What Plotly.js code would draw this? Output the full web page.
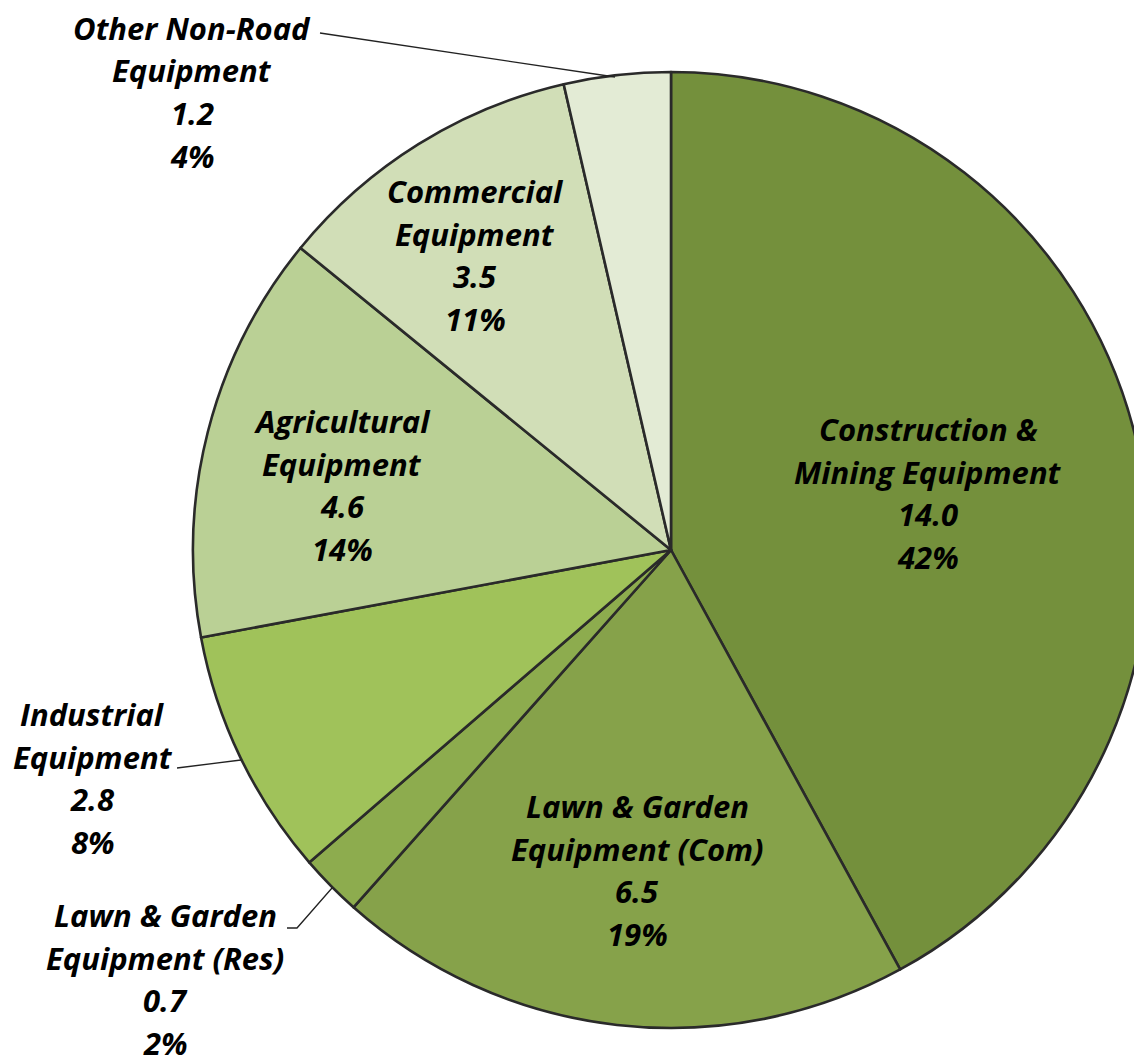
<!DOCTYPE html>
<html>
<head>
<meta charset="utf-8">
<script src="https://cdn.plot.ly/plotly-3.0.1.min.js"></script>
<style>
  html, body { margin: 0; padding: 0; overflow: hidden; background: #ffffff; }
  #chart { width: 1160px; height: 1061px; }
</style>
</head>
<body>
<div id="chart"></div>
<script>
// ---- data ----
const categories = [
  'Construction & Mining Equipment',
  'Lawn & Garden Equipment (Com)',
  'Lawn & Garden Equipment (Res)',
  'Industrial Equipment',
  'Agricultural Equipment',
  'Commercial Equipment',
  'Other Non-Road Equipment'
];
const labelLines = [
  ['Construction &', 'Mining Equipment'],
  ['Lawn & Garden', 'Equipment (Com)'],
  ['Lawn & Garden', 'Equipment (Res)'],
  ['Industrial', 'Equipment'],
  ['Agricultural', 'Equipment'],
  ['Commercial', 'Equipment'],
  ['Other Non-Road', 'Equipment']
];
const values = [14.0, 6.5, 0.7, 2.8, 4.6, 3.5, 1.2];
const percentLabels = ['42%', '19%', '2%', '8%', '14%', '11%', '4%'];

// ---- styling / layout ----
const colors = ['#74903C', '#86A24A', '#8DAC4E', '#A0C25A', '#BAD095', '#D1DEB7', '#E3EBD5'];
const W = 1160, H = 1061;
const cx = 671, cy = 550, R = 478;

// label anchor positions (pixel, centre of first line) and line spacing
const labelPos = [
  [928, 429], [637, 806], [165, 915], [93, 714], [342, 421], [475, 191], [192, 28]
];
const lineGap = 42.5;

const trace = {
  type: 'pie',
  labels: categories,
  values: values,
  sort: false,
  direction: 'clockwise',
  rotation: 0,
  textinfo: 'none',
  hoverinfo: 'label+value',
  marker: { colors: colors, line: { color: '#2a2a2a', width: 2.6 } },
  domain: {
    x: [(cx - R) / W, (cx + R) / W],
    y: [(H - cy - R) / H, (H - cy + R) / H]
  }
};

const font = { family: '"Open Sans", Lato, sans-serif', size: 31, color: '#000000' };
const annotations = [];
categories.forEach((c, i) => {
  const lines = labelLines[i].concat([values[i].toFixed(1), percentLabels[i]]);
  lines.forEach((t, k) => {
    annotations.push({
      xref: 'paper', yref: 'paper',
      x: labelPos[i][0] / W,
      y: 1 - (labelPos[i][1] + k * lineGap) / H,
      xanchor: 'center', yanchor: 'middle',
      text: '<b><i>' + t.replace(/&/g, '&amp;') + '</i></b>',
      showarrow: false,
      font: font
    });
  });
});

// leader lines for outside labels (pixel paths)
const leaders = [
  [[320, 33], [615, 77]],
  [[177, 768], [241, 760]],
  [[287, 928], [297, 928], [332, 888]]
];
const shapes = leaders.map(pts => ({
  type: 'path',
  xref: 'paper', yref: 'paper',
  path: pts.map((p, j) => (j ? 'L' : 'M') + (p[0] / W).toFixed(5) + ',' + (1 - p[1] / H).toFixed(5)).join(' '),
  line: { color: '#222222', width: 1.3 }
}));

const layout = {
  width: W, height: H,
  margin: { l: 0, r: 0, t: 0, b: 0 },
  paper_bgcolor: '#ffffff',
  showlegend: false,
  annotations: annotations,
  shapes: shapes
};

Plotly.newPlot('chart', [trace], layout, { displayModeBar: false, staticPlot: true });
</script>
</body>
</html>
